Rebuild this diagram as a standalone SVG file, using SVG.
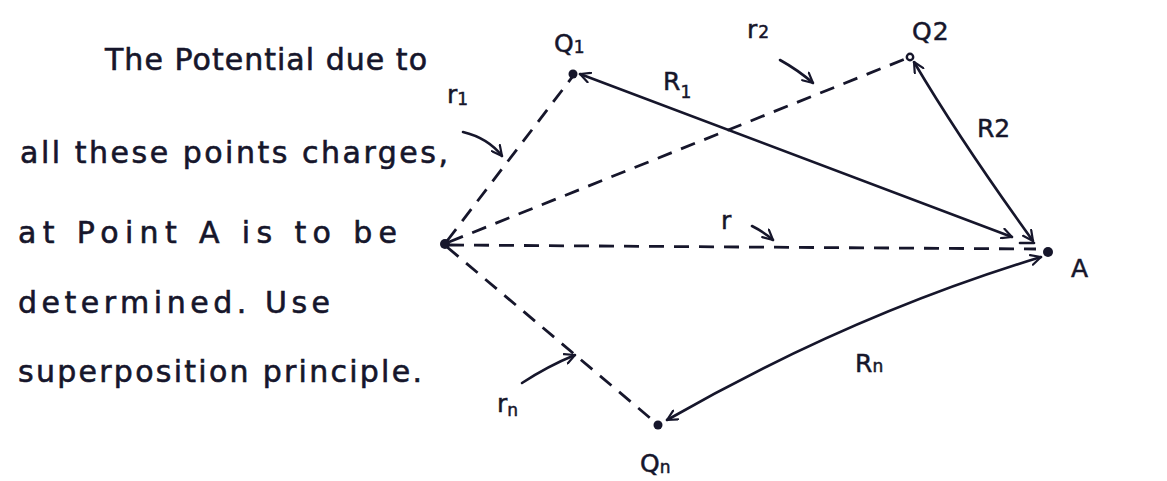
<svg xmlns="http://www.w3.org/2000/svg" width="1167" height="481" viewBox="0 0 1167 481">
<defs>
<style>
.t{font-family:"DejaVu Sans","Liberation Sans",sans-serif;font-size:30px;fill:#16162b;stroke:#16162b;stroke-width:0.6}
.lb{font-family:"DejaVu Sans","Liberation Sans",sans-serif;font-size:25px;fill:#16162b;stroke:#16162b;stroke-width:0.5}
.sub{font-size:17px}
.sol{fill:none;stroke:#16162b;stroke-width:2.6;stroke-linecap:round}
.dsh{fill:none;stroke:#16162b;stroke-width:2.8;stroke-dasharray:15 10}
.dot{fill:#16162b}
</style>
<marker id="ah" viewBox="0 0 12 12" refX="11" refY="6" markerWidth="12" markerHeight="12" markerUnits="userSpaceOnUse" orient="auto-start-reverse">
<path d="M1,1 L11,6 L1,11" fill="none" stroke="#16162b" stroke-width="2.2" stroke-linecap="round" stroke-linejoin="round"/>
</marker>
</defs>
<rect width="1167" height="481" fill="#ffffff"/>

<g id="description">
<text class="t" x="105" y="70" textLength="322" lengthAdjust="spacing">The Potential due to</text>
<text class="t" x="20" y="163" textLength="428" lengthAdjust="spacing">all these points charges,</text>
<text class="t" x="18" y="243" textLength="379" lengthAdjust="spacing">at Point A is to be</text>
<text class="t" x="18" y="313" textLength="312" lengthAdjust="spacing">determined. Use</text>
<text class="t" x="18" y="382" textLength="404" lengthAdjust="spacing">superposition principle.</text>
</g>

<g id="connectors">
<line class="dsh" x1="447" y1="241" x2="573" y2="76"/>
<line class="dsh" x1="449" y1="242" x2="905" y2="59"/>
<line class="dsh" x1="449" y1="245" x2="1036" y2="249"/>
<line class="dsh" x1="447" y1="247" x2="656" y2="423"/>
<line class="sol" x1="1020" y1="243" x2="1034" y2="243"/>
<line class="sol" x1="580" y1="74" x2="1012" y2="237" marker-start="url(#ah)" marker-end="url(#ah)"/>
<path class="sol" d="M914,62 Q960,140 1033,241" marker-start="url(#ah)" marker-end="url(#ah)"/>
<path class="sol" d="M1041,257 Q850,315 667,420" marker-start="url(#ah)" marker-end="url(#ah)"/>
<path class="sol" d="M463,132 Q488,138 502,156" marker-end="url(#ah)"/>
<path class="sol" d="M780,60 Q798,70 813,83" marker-end="url(#ah)"/>
<path class="sol" d="M752,226 Q764,232 773,240" marker-end="url(#ah)"/>
<path class="sol" d="M522,383 Q548,366 575,355" marker-end="url(#ah)"/>
</g>

<g id="node-O"><circle class="dot" cx="445" cy="244" r="5"/></g>
<g id="node-Q1">
<circle class="dot" cx="573" cy="74" r="4.5"/>
<text class="lb" x="554" y="52" font-size="26">Q<tspan class="sub" dy="1">1</tspan></text>
</g>
<g id="node-Q2">
<circle cx="910" cy="57" r="3.2" fill="#ffffff" stroke="#16162b" stroke-width="2.4"/>
<text class="lb" x="912" y="40" font-size="26">Q<tspan dx="1">2</tspan></text>
</g>
<g id="node-A">
<circle class="dot" cx="1048" cy="252" r="5"/>
<text class="lb" x="1071" y="277">A</text>
</g>
<g id="node-Qn">
<circle class="dot" cx="658" cy="425" r="4.5"/>
<text class="lb" x="640" y="472">Q<tspan class="sub" dy="1">n</tspan></text>
</g>

<g id="labels">
<text class="lb" x="447" y="103">r<tspan class="sub" dy="2">1</tspan></text>
<text class="lb" x="747" y="38">r<tspan class="sub" dx="1">2</tspan></text>
<text class="lb" x="663" y="90">R<tspan class="sub" dy="8">1</tspan></text>
<text class="lb" x="977" y="137">R2</text>
<text class="lb" x="721" y="229">r</text>
<text class="lb" x="855" y="372">R<tspan class="sub">n</tspan></text>
<text class="lb" x="497" y="412">r<tspan class="sub" dy="4">n</tspan></text>
</g>
</svg>
